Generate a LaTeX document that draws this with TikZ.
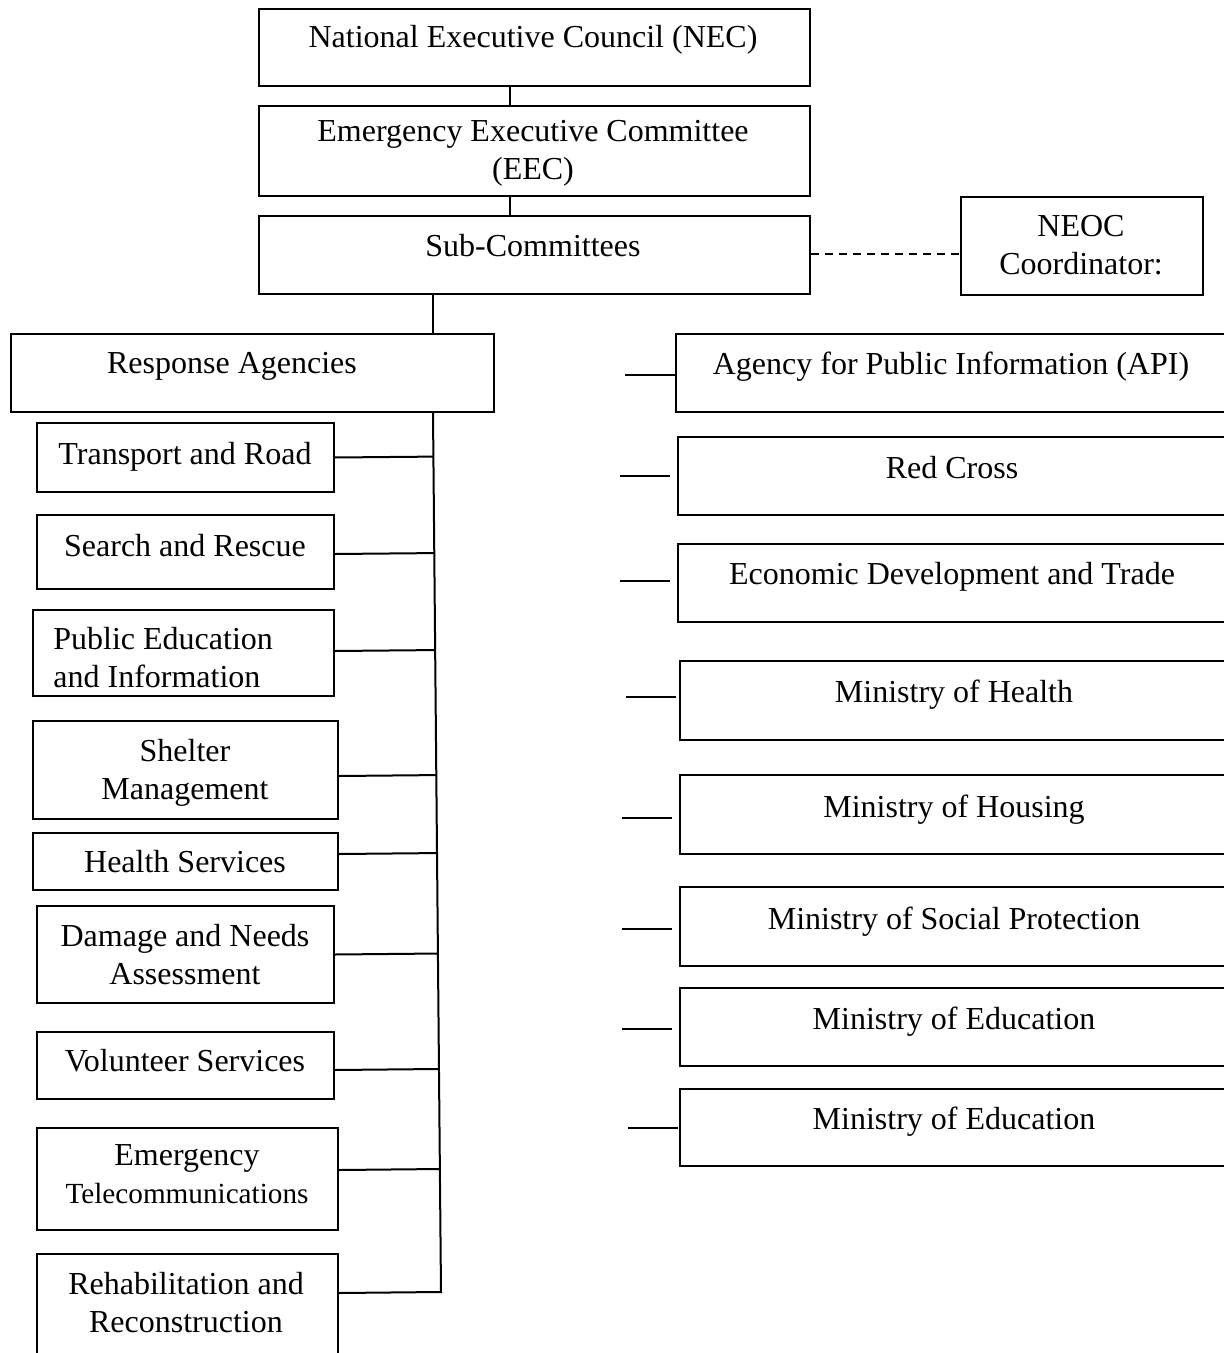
\documentclass[tikz,border=0pt]{standalone}
\usepackage{fontspec}
\setmainfont{Liberation Serif}
\usetikzlibrary{calc}
\newcommand\fsA{\fontsize{16}{19}\selectfont}
\newcommand\fsB{\fontsize{14.6}{18}\selectfont}
\tikzset{
  box/.style={draw, line width=1pt, anchor=north west, inner sep=0pt},
  lbl/.style={font=\fsA, inner sep=0pt, align=center, anchor=base},
  conn/.style={line width=1pt},
}
\newcommand\mybox[5]{\node[box, minimum width={(#4-#2)*0.5pt}, minimum height={(#5-#3)*0.5pt}] (#1) at (#2,#3) {};}
\newcommand\tx[4]{\node[lbl] (#1) at (#2,#3) {#4};}
\begin{document}
\begin{tikzpicture}[x=0.5pt,y=-0.5pt]
\useasboundingbox (0,0) rectangle (1224,1353);
\clip (0,0) rectangle (1224,1353);
% top chain
\mybox{nec}{258}{8}{809}{85}
\tx{tnec}{533}{48}{National Executive Council (NEC)}
\mybox{eec}{258}{105}{809}{195}
\tx{teec}{533}{180}{Emergency Executive Committee\\(EEC)}
\mybox{sub}{258}{215}{809}{293}
\tx{tsub}{533}{257}{Sub-Committees}
\mybox{neoc}{960}{196}{1202}{294}
\tx{tneoc}{1081}{275}{NEOC\\Coordinator:}
\mybox{ra}{10}{333}{493}{411}
\tx{tra}{232}{373}{Response Agencies}
\draw[conn] ([xshift=126pt]nec.south west) -- ([xshift=126pt]eec.north west);
\draw[conn] ([xshift=126pt]eec.south west) -- ([xshift=126pt]sub.north west);
\draw[conn] ([xshift=87.5pt]sub.south west) -- ([xshift=87.5pt]sub.south west |- ra.north);
\draw[conn, dashed, dash pattern=on 4pt off 3pt] (sub.east) ++(0,-1) coordinate (dA) -- (dA -| neoc.west);
% left column
\mybox{b1}{36}{422}{333}{491}
\tx{t1}{185}{464}{Transport and Road}
\mybox{b2}{36}{514}{333}{588}
\tx{t2}{185}{556}{Search and Rescue}
\mybox{b3}{32}{609}{333}{695}
\node[lbl, align=left, anchor=base west] (t3) at (53,687) {Public Education\\and Information};
\mybox{b4}{32}{720}{337}{818}
\tx{t4}{185}{799}{Shelter\\Management}
\mybox{b5}{32}{832}{337}{889}
\tx{t5}{185}{872}{Health Services}
\mybox{b6}{36}{905}{333}{1002}
\tx{t6}{185}{984}{Damage and Needs\\Assessment}
\mybox{b7}{36}{1031}{333}{1098}
\tx{t7}{185}{1071}{Volunteer Services}
\mybox{b8}{36}{1127}{337}{1229}
\tx{t8}{187}{1203}{Emergency\\{\fsB Telecommunications}}
\mybox{b9}{36}{1253}{337}{1390}
\tx{t9}{186}{1332}{Rehabilitation and\\Reconstruction}
% trunk
\coordinate (vt) at ([xshift=211.5pt]ra.south west);
\coordinate (vb) at (441,1293);
\draw[conn] (vt) -- (vb);
\coordinate (e1) at (b1.east);
\coordinate (e2) at ([yshift=-1pt]b2.east);
\coordinate (e3) at ([yshift=1pt]b3.east);
\coordinate (e4) at ([yshift=-3pt]b4.east);
\coordinate (e5) at ([yshift=3.75pt]b5.east);
\coordinate (e6) at (b6.east);
\coordinate (e7) at ([yshift=-2.25pt]b7.east);
\coordinate (e8) at ([yshift=4.5pt]b8.east);
\coordinate (e9) at (b9.east |- vb);
\foreach \i in {1,...,9}{\draw[conn] (e\i) -- ($(vt)!(e\i)!(vb)$);}
% right column
\mybox{r1}{675}{333}{1260}{411}
\tx{u1}{951}{374}{Agency for Public Information (API)}
\mybox{r2}{677}{436}{1260}{514}
\tx{u2}{952}{478}{Red Cross}
\mybox{r3}{677}{543}{1260}{621}
\tx{u3}{952}{584}{Economic Development and Trade}
\mybox{r4}{679}{660}{1260}{739}
\tx{u4}{954}{702}{Ministry of Health}
\mybox{r5}{679}{774}{1260}{853}
\tx{u5}{954}{817}{Ministry of Housing}
\mybox{r6}{679}{886}{1260}{965}
\tx{u6}{954}{929}{Ministry of Social Protection}
\mybox{r7}{679}{987}{1260}{1065}
\tx{u7}{954}{1029}{Ministry of Education}
\mybox{r8}{679}{1088}{1260}{1165}
\tx{u8}{954}{1129}{Ministry of Education}
% stubs
\coordinate (s1a) at (625,375); \coordinate (s1b) at (675,375);
\coordinate (s2a) at (620,476); \coordinate (s2b) at (670,476);
\coordinate (s3a) at (620,581); \coordinate (s3b) at (670,581);
\coordinate (s4a) at (626,697); \coordinate (s4b) at (676,697);
\coordinate (s5a) at (622,818); \coordinate (s5b) at (672,818);
\coordinate (s6a) at (622,929); \coordinate (s6b) at (672,929);
\coordinate (s7a) at (622,1029); \coordinate (s7b) at (672,1029);
\coordinate (s8a) at (628,1128); \coordinate (s8b) at (678,1128);
\foreach \i in {1,...,8}{\draw[conn] (s\i a) -- (s\i b);}
\end{tikzpicture}
\end{document}
